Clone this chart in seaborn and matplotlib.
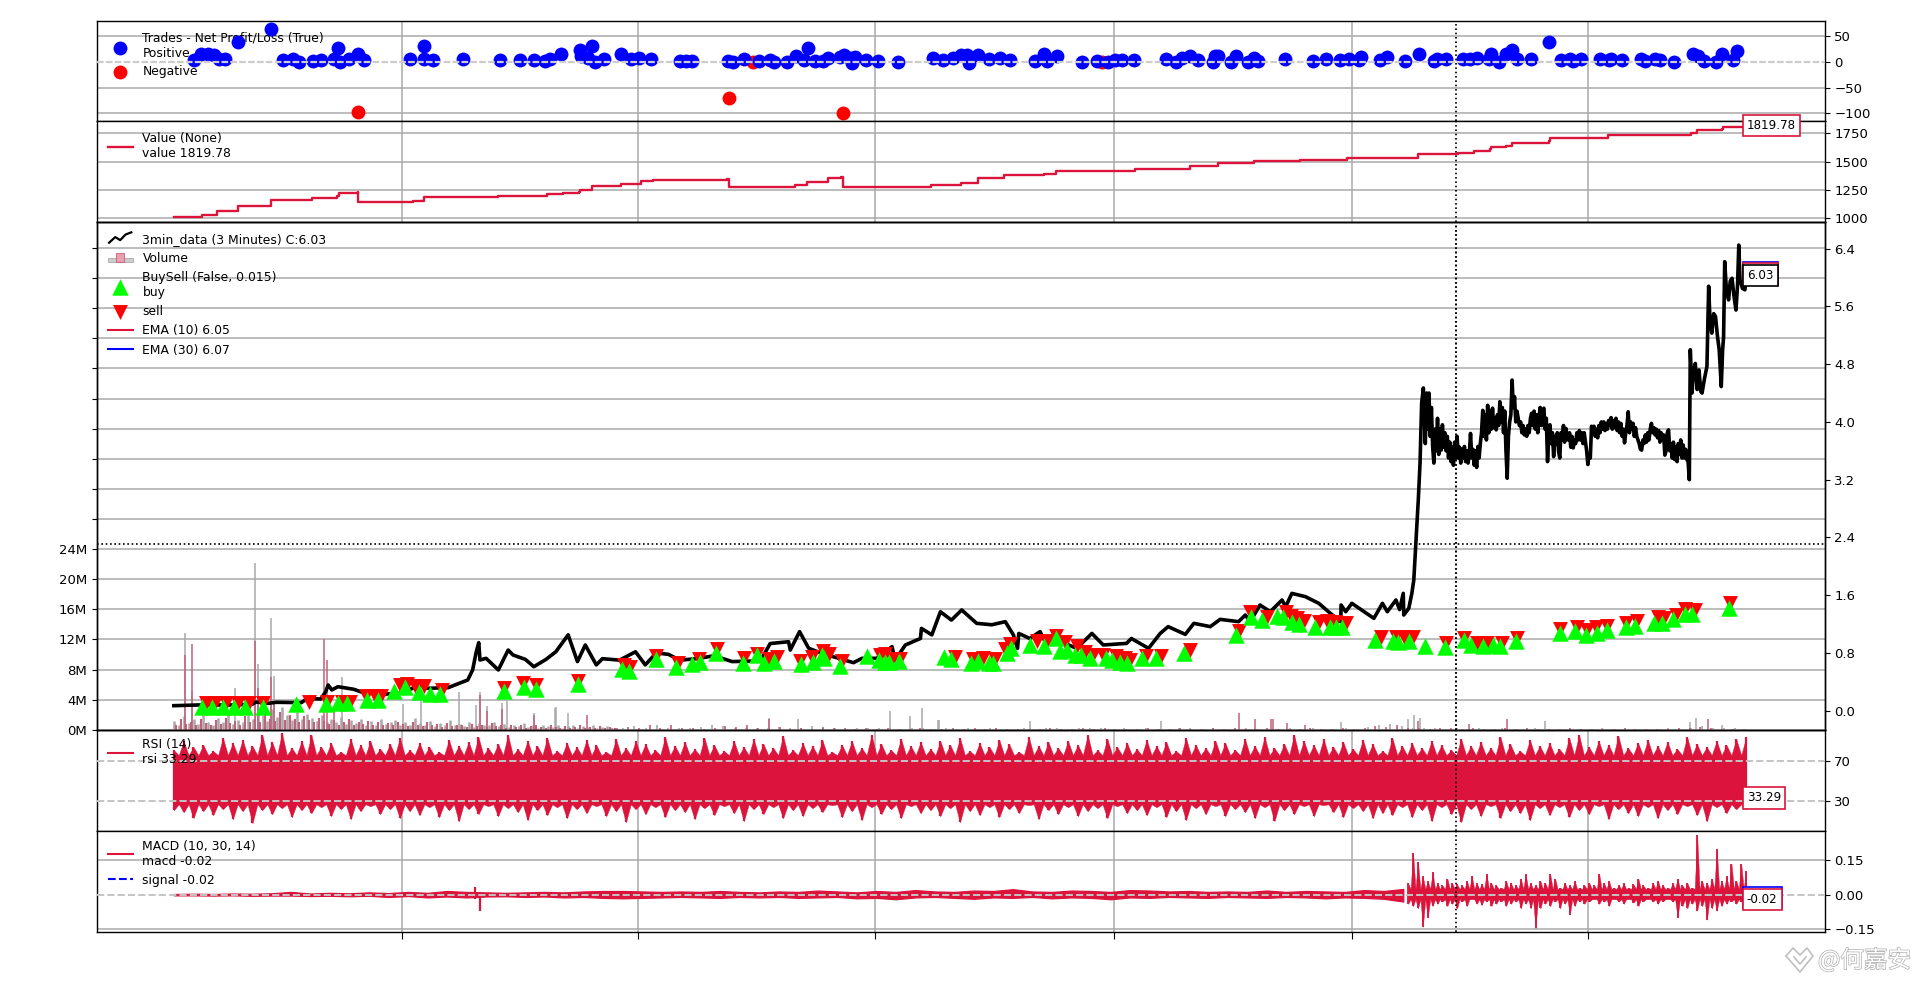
import numpy as np
import matplotlib
matplotlib.use('Agg')
import matplotlib.pyplot as plt
import matplotlib.patheffects as pe
from matplotlib.lines import Line2D
from matplotlib.patches import Rectangle
import seaborn as sns

# x is the bar position on a common axis
x_ticks = [328, 521, 715, 910, 1104, 1297]

# trades panel
pos_x = [158.5, 164.5, 170, 175, 179, 183.5, 194.5, 221, 231, 239, 244.5, 256, 262, 273, 278, 285, 292.5, 297, 276, 335,
         346, 346, 354, 378.5, 408, 425, 436, 445, 449, 458.5, 474, 474.5, 483.5, 480, 486, 493, 507, 515, 522, 532,
         555, 560, 565, 594.3, 599, 608, 620, 629, 632.4, 642.7, 650, 656.6, 659.5, 666, 671.8, 676.6, 686.3, 689.6,
         694.4, 696, 698.3, 707.3, 717, 733, 762, 770, 778, 785, 789.6, 791, 798.7, 808, 817, 825, 845.5, 852.6, 855,
         863.3, 884, 895.6, 905, 910.7, 916, 926, 952, 960.8, 965.6, 972, 978, 990.8, 992.4, 995, 1005.3, 1009, 1019,
         1024, 1027.6, 1049.6, 1072, 1082.7, 1094.6, 1102, 1110, 1111.7, 1127, 1133, 1147.6, 1158.6, 1171.5, 1173.7,
         1181, 1195, 1200.5, 1206, 1217.7, 1216, 1224, 1229.6, 1235, 1239, 1250.6, 1265.4, 1274.8, 1282, 1285, 1291,
         1306.5, 1314, 1316, 1325, 1340, 1343.6, 1351.7, 1356, 1367, 1383, 1387, 1392, 1401.7, 1406.5, 1415, 1418.5]
pos_y = [3.7, 15, 14, 12, 4.4, 4.4, 38, 64, 3.7, 4.4, -0.7, 1.2, 3.7, 5.7, -0.7, 4.4, 14, 2.5, 27, 5.7,
         31, 5.7, 2.5, 5.7, 2.5, 2.5, 2.5, 1.2, 4.4, 14, 21.8, 10.2, 30, 7, -0.7, 5.7, 15, 5.7, 7.7, 4.4,
         1.2, 1.2, 1.2, 1.2, -0.7, 5.7, 1.2, 2.5, -1.4, -1.4, 11, 2.5, 27, 1.2, 1.2, 7.7, 8.9, 13.6,
         7, -2.7, 8.9, 2.5, 1.2, -0.7, 7.7, 3.8, 7, 12, 12, -2.7, 13.6, 5.7, 7.7, 3.8, 1.2, 15, 1.2,
         10.2, -0.7, 1.2, -0.7, 3.8, 2.5, 3.8, 5.7, -0.7, 7.7, 10.2, 3.8, -0.7, 10.2, 10.2, -0.7, 10.2, -0.7,
         7.7, 1.2, 5.7, 1.2, 5.7, 2.5, 4.4, 2.5, 9, 2.5, 9, 1.2, 14, 1.2, 5.7,
         4.4, 5.7, 5.7, 7, 15, 4.4, -0.7, 14, 21.8, 4.4, 4.4, 38, 2.5, 5.7, 1.2, 5.7,
         4.4, 2.5, 4.4, 2.5, 5.7, 1.2, 4.4, 2.5, -0.7, 15, 10.2, 1.2, -0.7, 15, 2.5, 19.8]
neg_x = [292.5, 595, 688.5, 614.6, 900]
neg_y = [-98, -69.5, -100, -0.7, -0.7]

# broker value
value_x = [142, 158.5, 165, 177, 194, 220, 221, 255, 275, 277, 292, 292.5, 337, 346, 407, 447, 460, 473, 474, 483.5,
           507, 523.5, 533, 594, 595, 649, 659, 676.6, 687, 688.6, 760.6, 785, 799, 820, 852.6, 862, 927, 972, 995,
           1024, 1062, 1100, 1158, 1191, 1204, 1217, 1218, 1230, 1235, 1265, 1266, 1313, 1381, 1386, 1406, 1407, 1415, 1426]
value_y = [1009, 1009, 1029, 1058, 1102, 1102, 1161, 1180, 1190, 1220, 1232, 1138, 1150, 1182, 1195, 1210, 1225, 1228,
           1250, 1285, 1305, 1329, 1340, 1345, 1270, 1294, 1323, 1353, 1367, 1270, 1294, 1314, 1358, 1382, 1388, 1420,
           1435, 1461, 1485, 1505, 1515, 1535, 1567, 1579, 1594, 1609, 1632, 1640, 1662, 1680, 1711, 1732, 1755, 1779,
           1785, 1803, 1808, 1819.78]

# price, three stretches: slow part, the ranging middle, the last run
price_x = [142, 162, 189, 206, 209, 219, 226, 246, 251, 262, 266, 268, 271, 276, 289, 296, 312, 326, 332, 344, 349, 366,
           382, 386, 389, 391, 392, 397, 407, 415, 419, 429, 436, 446, 454, 464, 471.6, 478, 487, 492, 506, 519, 527, 536,
           546, 555, 569, 583, 598, 621, 629, 644, 645.4, 653, 660.4, 671, 685, 697, 704, 716, 728.5, 731, 739.4, 751.7,
           752.5, 761, 768, 777, 785.4, 797.6, 810, 821, 827.6, 831, 832, 841, 849.4, 853.5, 861.7, 879.4, 891.7, 901,
           920, 924, 938, 947.5, 954, 968, 975, 988.4, 996.5, 1011.5, 1017, 1021, 1029, 1037.4, 1047, 1050, 1055, 1066,
           1077, 1086.5, 1095, 1095.2, 1099, 1104, 1122, 1129, 1133, 1140, 1143, 1146, 1146.4, 1150.5, 1153, 1154.6,
           1158.3, 1159.7, 1161, 1162.4]
price_y = [.069, .079, .079, .088, .12, .102, .116, .111, .166, .162, .263, .356, .287, .332, .296, .254, .227, .24, .277,
           .356, .31, .319, .425, .564, .817, .942, .702, .725, .564, .84, .771, .711, .609, .711, .817, 1.05, .68, .91,
           .634, .72, .70, .816, .634, .80, .78, .70, .72, .76, .68, .69, .93, .955, .84, 1.095, .865, .795, .725, .665,
           .725, .725, .887, .70, .91, 1.0, 1.14, 1.05, 1.37, 1.255, 1.395, 1.21, 1.19, 1.233, 1.05, .863, 1.07, 1.0,
           1.095, .956, .988, .863, 1.07, .91, .932, 1.0, .863, 1.07, 1.164, 1.057, 1.21, 1.164, 1.265, 1.233, 1.325,
           1.233, 1.464, 1.371, 1.533, 1.44, 1.625, 1.58, 1.487, 1.348, 1.233, 1.464, 1.371, 1.487, 1.279, 1.487, 1.371,
           1.533, 1.40, 1.625, 1.325, 1.417, 1.625, 1.81, 2.93, 3.43, 4.26, 4.47]
price_mid = [3.7, 4.4, 3.9, 4.4, 3.8, 4.2, 3.66,
             3.43, 3.9, 3.6, 4.05, 3.55, 3.9, 3.61, 3.96, 3.65, 3.85,
             3.6, 3.8, 3.5, 3.72, 3.45, 3.65, 3.40, 3.72, 3.5, 3.8,
             3.5, 3.65, 3.43, 3.62, 3.5, 3.66, 3.45, 3.6, 3.43, 3.55,
             3.84, 3.5, 3.62, 3.4, 3.6, 3.37, 3.66, 3.5, 3.7, 3.85,
             4.16, 3.8, 4.1, 3.75, 4.23, 3.85, 4.15, 3.9, 4.19, 3.92,
             4.05, 3.89, 4.1, 3.95, 4.28, 4.0, 4.2, 3.85, 4.15, 3.6,
             3.22, 3.8, 4.0, 4.1, 4.58, 4.2, 4.35, 4.0, 4.15, 4.05,
             3.95, 4.0, 3.85, 3.95, 3.82, 3.9, 3.8, 3.95, 3.85, 4.05,
             4.12, 3.95, 4.15, 3.9, 4.1, 3.85, 4.05, 4.2, 3.95, 4.15,
             4.19, 3.9, 4.05, 3.45, 3.8, 3.96, 3.7, 3.85, 3.52, 3.8,
             3.7, 3.85, 3.6, 3.5, 3.85, 3.75, 3.95, 3.72, 3.91, 3.8,
             3.75, 3.85, 3.65, 3.8, 3.64, 3.75, 3.7, 3.85, 3.75, 3.88,
             3.75, 3.85, 3.7, 3.85, 3.72, 3.6, 3.41, 3.55, 3.5, 3.94,
             3.85, 3.94, 3.8, 3.9, 3.78, 3.95, 3.85, 4.0, 3.9, 4.0,
             3.88, 3.98, 3.9, 4.02, 3.95, 4.06, 3.9, 4.02, 3.92, 4.05,
             3.88, 4.0, 3.85, 3.98, 3.8, 3.9, 3.71, 3.85, 3.95, 4.14,
             3.85, 4.0, 3.9, 3.98, 3.8, 3.92, 3.8, 3.75, 3.7, 3.62,
             3.61, 3.75, 3.7, 3.82, 3.72, 3.85, 3.75, 3.9, 3.98, 3.85,
             3.92, 3.82, 3.9, 3.78, 3.88, 3.72, 3.85, 3.75, 3.82, 3.54,
             3.6, 3.85, 3.89, 3.6, 3.7, 3.5, 3.72, 3.48, 3.65, 3.45,
             3.7, 3.55, 3.75, 3.5, 3.68, 3.5, 3.62, 3.48, 3.45, 3.2]
price_end_x = [1380.4, 1381.8, 1383, 1384.5, 1386, 1387.5, 1389, 1390, 1392, 1394, 1395.4, 1396.5, 1398, 1399.5, 1401, 1402.5,
               1404, 1405.7, 1406.8, 1407.6, 1408.5, 1410, 1411.7, 1413, 1414.5, 1416, 1417.7, 1419, 1420, 1421, 1423, 1425, 1426]
price_end_y = [5.0, 4.4, 4.7, 4.81, 4.45, 4.72, 4.42, 4.4, 4.6, 4.77, 5.88, 5.4, 5.23, 5.5, 5.46, 5.2,
               5.0, 4.49, 5.0, 5.18, 6.22, 5.8, 5.69, 5.95, 5.99, 5.75, 5.55, 5.9, 6.45, 5.97, 5.85, 5.83, 6.03]

# buy / sell markers
buy_x = [165, 173, 182, 191, 200, 215, 242, 266, 276, 283, 300, 309, 322, 331, 342, 351, 359, 412, 428, 438, 472, 508,
         514, 536, 552, 565, 572, 585, 607, 618, 624, 632, 654, 664, 671, 673, 686, 708, 718, 723, 726, 734, 771, 777,
         793, 799, 808, 811, 822, 826, 841, 853, 862, 866, 871, 878, 883, 890, 903, 908, 915, 920, 933, 944, 967, 1009,
         1022, 1031, 1043, 1048, 1055, 1061, 1074, 1086, 1091, 1096, 1123, 1138, 1142, 1151, 1164, 1180, 1196, 1201,
         1211, 1219, 1225, 1238, 1274, 1286, 1295, 1304, 1312, 1328, 1335, 1351, 1357, 1366, 1376, 1382, 1412]
buy_y = [.047, .047, .056, .056, .056, .056, .088, .088, .10, .10, .149, .149, .278, .325, .264, .231, .231, .273, .324,
         .306, .366, .572, .544, .711, .601, .647, .68, .804, .663, .772, .663, .69, .647, .68, .772, .725, .619, .757,
         .702, .68, .68, .69, .748, .711, .665, .688, .665, .665, .803, .863, .909, .895, 1.0, .832, .841, .772, .772,
         .725, .725, .702, .679, .656, .725, .725, .803, 1.048, 1.302, 1.256, 1.312, 1.293, 1.233, 1.196, 1.164, 1.164,
         1.164, 1.164, .98, .97, .956, .97, .896, .887, .98, .91, .896, .91, .90, .966, 1.07, 1.108, 1.048, 1.08, 1.117,
         1.154, 1.173, 1.22, 1.22, 1.265, 1.339, 1.339, 1.418]
sell_x = [168, 176, 185, 194, 203, 215, 252, 267, 279, 286, 299, 306, 311, 327, 332, 339, 346, 361, 412, 427, 438, 472,
          510, 514.6, 536, 554, 570.5, 585.5, 608, 618, 628, 634.5, 653.6, 663, 672, 677, 687.6, 719, 723, 728.5, 735.3,
          780, 795, 803, 812.6, 821, 825, 847, 855, 862.5, 870, 879.4, 886, 893, 901, 911, 919, 923, 936, 948, 972, 1012,
          1021, 1035, 1050, 1054, 1059, 1065, 1077, 1084, 1090.6, 1099, 1128, 1140, 1146.4, 1154, 1180.5, 1196, 1206,
          1214.4, 1226.4, 1239, 1274.4, 1288, 1296, 1303, 1312, 1328, 1337, 1354, 1359, 1369, 1376, 1384, 1413]
sell_y = [.105, .105, .105, .105, .105, .105, .115, .115, .125, .125, .205, .205, .205, .36, .37, .346, .337, .29, .32,
          .38, .36, .415, .63, .609, .762, .655, .715, .854, .725, .785, .715, .738, .692, .738, .82, .785, .692, .775,
          .785, .715, .715, .75, .715, .725, .715, .853, .922, .968, .968, 1.038, .946, .89, .807, .774, .774, .76, .725,
          .701, .762, .762, .84, 1.107, 1.36, 1.302, 1.36, 1.315, 1.283, 1.246, 1.223, 1.246, 1.223, 1.209, 1.015, 1.015,
          1.015, 1.015, .937, 1.01, .94, .94, .94, 1.0, 1.13, 1.163, 1.12, 1.163, 1.177, 1.21, 1.246, 1.30, 1.28, 1.329,
          1.408, 1.40, 1.494]

# volume in millions, tall bars, a left carpet and a thin one over the whole run
vol_gray_x = [151, 157, 192, 208, 211, 221, 224, 279, 329, 344, 375, 389, 392, 398, 410, 414, 436, 453, 454, 464, 628, 652,
              727, 743, 753, 767, 766, 841, 948, 1095, 1155, 1150, 1160, 1262, 1385, 1380, 1406]
vol_gray_h = [12.9, 5.2, 5.6, 22.2, 8.7, 14.8, 7.2, 7.0, 3.4, 3.9, 5.0, 3.3, 5.0, 3.2, 3.6, 3.8, 2.2, 2.9, 3.0, 2.2, 1.6, 1.5,
              2.5, 1.8, 2.9, 1.3, 1.3, 1.2, 1.2, 1.0, 1.9, 1.5, 1.6, 1.2, 1.6, 1.0, 0.7]
vol_red_x = [151, 157, 208, 211, 221, 224, 265, 267, 273, 392, 398, 410, 436, 479, 628, 1012, 1025, 1038, 1040, 1051, 1066,
             1158, 1200, 1231, 1395]
vol_red_h = [9.9, 11.4, 11.8, 5.5, 7.0, 3.5, 12.1, 9.3, 3.0, 4.6, 2.5, 2.8, 2.0, 1.9, 1.4, 2.2, 1.4, 1.5, 1.5, 0.9, 0.7,
             1.2, 0.8, 1.4, 1.4]
vol_left_gray = [1.2, .7, 1.8, .9, 1.4, .8, 2.0, 1.1, .7, 1.6, 1.0, 2.2, .8, 1.3, 1.1, 1.9, 1.4, 2.6, 2.0, 1.2,
                 2.8, 1.7, 3.0, 1.9, 1.3, 2.4, 1.5, 2.1, 1.6, 1.2, 1.9, 1.0, 1.5, 1.1, 1.7, .8, 1.3, .9, 1.4, .7,
                 1.2, .6, 1.5, .8, 1.0, 1.3, .6, 1.1, .7, 1.6, .9, .6, 1.2, .5, .9, .7, 1.3, .6, .8, .5,
                 1.0, .4, .9, .6, .7, 1.1, .5, .8, .4, .7, .5, .9, .4, .6, .3, .7, .5, .4, .6, .3,
                 .5, .7, .3, .5, .4, .6, .3, .4, .5, .3]
vol_left_red = [.7, 1.4, .8, 1.1, .6, 1.5, .9, .7, 1.3, .8, 1.6, .9, 1.2, .7, 1.8, 1.0, 1.4, 1.1, 2.2, 1.5,
                1.2, 2.4, 1.3, 2.0, 1.5, 1.1, 1.8, 1.3, 1.0, 1.6, 1.2, .8, 1.3, .7, 1.1, 1.4, .7, 1.0, .8, 1.2,
                .6, 1.1, .7, .9, .6, 1.0, .8, .5, 1.1, .7, .5, 1.0, .6, .8, .4, .9, .5, .7, .6, .4,
                .8, .5, .6, .4, .9, .5, .6, .3, .7, .4, .6, .3, .5, .7, .4, .3, .6, .4, .3, .5,
                .3, .4, .6, .3, .4, .3, .5, .3, .4, .3]
vol_run_a = [.3, .2, .5, .3, .6, .2, .3, .2, .4, .6, .5, .3, .2, .3, .2, .4, .3, .2, .5, .3, .2, .1, .3, .2, .2, .3, .1, .2,
             .2, .1, .2, .1, .2, .1, .3, .1, .1, .2, .1, .2, .3, .1, .2, .3, .2, .1, .2, .1, .2, .1, .1, .2, .3, .1, .2, .1,
             .1, .2, .1, .1, .1, .2, .1, .2, .1, .1, .2, .1, .4, .6, .8, .5, .3, .2, .3, .1, .2, .1, .2, .1, .2, .1, .1, .2,
             .1, .1, .1, .1, .1, .2, .1, .1, .1, .1, .1, .2, .1, .3, .5, .3, .2, .2, .1]
vol_run_b = [.2, .4, .2, .6, .2, .7, .3, .3, .1, .3, .5, .4, .7, .2, .1, .4, .1, .2, .1, .4, .2, .2, .1, .2, .1, .3, .1, .1,
             .2, .1, .1, .2, .1, .2, .1, .2, .1, .1, .1, .1, .2, .1, .1, .2, .1, .2, .1, .1, .1, .2, .1, .1, .2, .1, .1, .2,
             .1, .2, .1, .1, .2, .1, .1, .1, .2, .1, .1, .2, .1, .3, .5, .4, .6, .3, .2, .1, .2, .2, .1, .2, .1, .1, .2, .1,
             .2, .1, .1, .1, .2, .1, .1, .1, .1, .2, .1, .1, .1, .1, .2, .2, .4, .2, .1, .1, .1]

# rsi: solid band plus the spikes above and below it
rsi_core = [27, 76]
rsi_hi = [81, 90, 84, 86, 80, 93, 88, 91, 85, 96,
          89, 98, 83, 90, 96, 84, 88, 79, 92, 86,
          90, 82, 87, 93, 81, 88, 84, 79, 91, 85,
          89, 94, 83, 87, 96, 82, 90, 85, 93, 80,
          88, 84, 91, 86, 79, 92, 83, 90, 87, 81,
          94, 85, 89, 82, 93, 86, 80, 90, 84, 92,
          87, 83, 95, 81, 88, 85, 91, 79, 86, 90,
          83, 96, 87, 81, 92, 85, 89, 82, 90, 86,
          93, 80, 88, 84, 91, 87, 79, 94, 85, 89,
          83, 90, 86, 96, 81, 92, 84, 88, 82, 91,
          85, 89, 80, 93, 86, 83, 90, 88, 81, 92,
          85, 94, 83, 87, 96, 90, 86, 92, 84, 89,
          82, 91, 87, 80, 93, 85, 88, 83, 90, 86,
          81, 92, 85, 89, 83, 94, 87, 80, 91, 85,
          88, 82, 93, 96, 84, 90, 86, 95, 83, 88,
          91, 85, 89, 82, 94, 87, 84, 90, 86, 92,
          94]
rsi_lo = [21, 19, 13, 20, 16, 22, 12, 20, 8, 21,
          17, 23, 14, 21, 18, 24, 15, 22, 12, 20,
          25, 17, 22, 13, 20, 16, 24, 14, 21, 10,
          22, 17, 25, 15, 23, 19, 11, 21, 16, 24,
          13, 22, 18, 25, 15, 20, 9, 22, 17, 24,
          14, 21, 19, 12, 23, 16, 25, 18, 10, 22,
          17, 24, 13, 21, 15, 23, 19, 26, 14, 20,
          11, 24, 17, 22, 13, 25, 18, 21, 15, 23,
          9, 20, 16, 24, 14, 22, 18, 26, 12, 21,
          17, 24, 15, 20, 23, 13, 25, 18, 21, 16,
          24, 14, 20, 11, 23, 17, 25, 15, 22, 19,
          13, 24, 10, 21, 17, 25, 15, 26, 19, 14,
          23, 20, 13, 18, 16, 24, 14, 21, 10, 24,
          17, 9, 22, 15, 25, 13, 20, 18, 11, 23,
          16, 24, 14, 21, 17, 25, 12, 22, 18, 15,
          24, 13, 21, 17, 25, 16, 10, 24, 18, 22,
          22]

# macd band, coarse before the jump and fine after it
macd_a_hi = [.003, .004, .003, .005, .004, .006, .012, .005, .008, .006, .010, .007, .012, .008, .016, .012,
             .010, .008, .010, .012, .010, .014, .016, .016, .014, .012, .014, .012, .016, .012, .010, .014,
             .012, .018, .014, .010, .016, .012, .020, .014, .012, .018, .016, .024, .014, .012, .018, .016,
             .012, .020, .018, .014, .016, .012, .014, .012, .018, .012, .016, .014, .012, .020, .016, .025]
macd_a_lo = [-.003, -.003, -.004, -.003, -.005, -.004, -.004, -.006, -.005, -.007, -.005, -.010, -.006, -.012, -.008, -.012,
             -.008, -.007, -.010, -.008, -.012, -.010, -.014, -.016, -.014, -.012, -.010, -.012, -.014, -.010, -.012, -.010,
             -.014, -.012, -.010, -.016, -.014, -.020, -.012, -.010, -.014, -.018, -.012, -.014, -.010, -.016, -.012, -.014,
             -.020, -.012, -.014, -.010, -.012, -.014, -.010, -.012, -.014, -.010, -.012, -.016, -.012, -.014, -.018, -.030]
macd_spike_x = [388, 392]
macd_spike_hi = [.033, .012]
macd_spike_lo = [-.02, -.07]
macd_core = [-.02, .025]
macd_b_hi = [.05, .182, .143, .08, .06, .097, .05, .04, .07, .05, .045, .04, .06, .08, .05, .045, .09, .05, .04, .03,
             .06, .05, .04, .07, .088, .05, .04, .06, .05, .09, .07, .03, .05, .04, .06, .03, .04, .05, .04, .09,
             .05, .06, .03, .04, .05, .03, .045, .07, .04, .03, .05, .06, .04, .03, .05, .07, .04, .05, .03, .26,
             .06, .05, .07, .20, .06, .08, .135, .06, .135, .104]
macd_b_lo = [-.04, -.05, -.06, -.14, -.10, -.05, -.04, -.03, -.05, -.04, -.06, -.03, -.05, -.02, -.04, -.045, -.03, -.05, -.04, -.03,
             -.05, -.04, -.03, -.06, -.04, -.06, -.146, -.06, -.04, -.05, -.03, -.06, -.04, -.087, -.05, -.03, -.04, -.03, -.02, -.04,
             -.03, -.05, -.02, -.03, -.04, -.02, -.035, -.05, -.03, -.02, -.03, -.04, -.03, -.02, -.03, -.10,
             -.05, -.06, -.04, -.07, -.05, -.109, -.06, -.07, -.05, -.04, -.03, -.04, -.03, -.04]

tick_pt = 9.5
legend_pt = 8.9
tag_pt = 8.6
crimson = '#dc143c'
grid_col = '#aaaaaa'

plt.rcParams['font.family'] = ['DejaVu Sans']
plt.rcParams['axes.linewidth'] = 1.0

W, H = 1920, 981
fig = plt.figure(figsize=(W / 100, H / 100), dpi=100)


def panel(top, bottom):
    left, right = 96.7, 1824.5
    return fig.add_axes([left / W, 1 - bottom / H, (right - left) / W, (bottom - top) / H])


def saw(ax, xs, lo, hi, core):
    # each reading is a peak, the band edge sits between two peaks
    xs = np.asarray(xs, dtype=float)
    mids = (xs[:-1] + xs[1:]) / 2
    n = min(len(lo), len(hi), len(xs))
    px = np.empty(2 * n - 1)
    px[0::2] = xs[:n]
    px[1::2] = mids[:n - 1]
    top = np.full(2 * n - 1, core[1], dtype=float)
    bot = np.full(2 * n - 1, core[0], dtype=float)
    top[0::2] = hi[:n]
    bot[0::2] = lo[:n]
    ax.fill_between(px, bot, top, color=crimson, lw=0.3, zorder=3)


ax_tr = panel(20.8, 121.2)
ax_val = panel(121.2, 221.6)
ax_p = panel(221.6, 729.8)
ax_rsi = panel(729.8, 831.4)
ax_macd = panel(831.4, 931.8)
axes = [ax_tr, ax_val, ax_p, ax_rsi, ax_macd]
ax_vol = ax_p.twinx()

for ax in axes + [ax_vol]:
    ax.set_xlim(79, 1490)
    ax.set_xticks(x_ticks)
    ax.tick_params(axis='x', labelbottom=False, length=0)
    ax.tick_params(axis='y', labelsize=tick_pt)
    ax.yaxis.tick_right()
    ax.grid(True, color=grid_col, lw=1.1)
    ax.set_axisbelow(True)
    ax.axvline(1189, color='k', ls=(0, (1, 1.6)), lw=1.2, zorder=20)
ax_macd.tick_params(axis='x', length=5)

# trades
sns.scatterplot(x=pos_x, y=pos_y, ax=ax_tr, color='blue', s=100, linewidth=0, zorder=4,
                label='Trades - Net Profit/Loss (True)\nPositive')
sns.scatterplot(x=neg_x, y=neg_y, ax=ax_tr, color='red', s=100, linewidth=0, zorder=3, label='Negative')
ax_tr.set_ylim(-115, 79)
ax_tr.set_yticks([50, 0, -50, -100])
ax_tr.yaxis.get_major_ticks()[1].gridline.set_visible(False)
ax_tr.axhline(0, color='#cccccc', ls=(0, (3, 1)), lw=1.6, zorder=6)
ax_tr.legend(loc='upper left', frameon=False, fontsize=legend_pt, labelspacing=0.45).set_zorder(2)

# value
sns.lineplot(x=value_x, y=value_y, ax=ax_val, color=crimson, lw=1.7, estimator=None, sort=False,
             drawstyle='steps-post', label='Value (None)\nvalue 1819.78')
ax_val.set_ylim(967, 1858.5)
ax_val.set_yticks([1000, 1250, 1500, 1750])
ax_val.legend(loc='upper left', frameon=False, fontsize=legend_pt)

# volume goes behind the price
ax_p.set_zorder(ax_vol.get_zorder() + 1)
ax_p.patch.set_visible(False)
ax_p.grid(False)
ax_vol.yaxis.tick_left()
ax_vol.yaxis.set_label_position('left')
ax_vol.set_ylim(0, 67.5)
ax_vol.set_yticks(np.arange(0, 65, 4))
ax_vol.set_yticklabels(['%dM' % v if v <= 24 else '' for v in np.arange(0, 65, 4)])

gray_col = '#a8a8a8'
red_col = '#c4607a'
ax_vol.vlines(np.linspace(142, 500, len(vol_left_gray)), 0, vol_left_gray, color=gray_col, lw=1.8)
ax_vol.vlines(np.linspace(500, 1426, len(vol_run_a)), 0, vol_run_a, color=gray_col, lw=1.2)
ax_vol.vlines(vol_gray_x, 0, vol_gray_h, color=gray_col, lw=1.1)
ax_vol.vlines(np.linspace(144, 502, len(vol_left_red)), 0, vol_left_red, color=red_col, lw=1.5)
ax_vol.vlines(np.linspace(504, 1424, len(vol_run_b)), 0, vol_run_b, color=red_col, lw=1.2)
ax_vol.vlines(vol_red_x, 0, vol_red_h, color=red_col, lw=1.1)

# price, emas under it
all_x = np.concatenate([price_x, np.linspace(1164, 1379.6, len(price_mid)), price_end_x])
all_y = price_y + price_mid + price_end_y
sns.lineplot(x=all_x, y=all_y, ax=ax_p, color=crimson, lw=1.5, estimator=None, sort=False, zorder=3,
             label='EMA (10) 6.05')
sns.lineplot(x=all_x, y=all_y, ax=ax_p, color='blue', lw=1.5, estimator=None, sort=False, zorder=3,
             label='EMA (30) 6.07')
sns.lineplot(x=all_x, y=all_y, ax=ax_p, color='k', lw=2.6, estimator=None, sort=False, zorder=4,
             label='3min_data (3 Minutes) C:6.03')
sns.scatterplot(x=sell_x, y=sell_y, ax=ax_p, color='red', marker='v', s=115, linewidth=0, zorder=5, label='sell')
sns.scatterplot(x=buy_x, y=buy_y, ax=ax_p, color='lime', marker='^', s=140, linewidth=0, zorder=6,
                label='BuySell (False, 0.015)\nbuy')
ax_p.set_ylim(-0.265, 6.775)
ax_p.set_yticks([0, .8, 1.6, 2.4, 3.2, 4.0, 4.8, 5.6, 6.4])
ax_p.axhline(2.313, color='k', ls=(0, (1, 1.6)), lw=1.2, zorder=20)


class VolumeHandle:
    def legend_artist(self, legend, orig, fontsize, box):
        x0, y0 = box.xdescent, box.ydescent
        w, h = box.width, box.height
        rects = [Rectangle((x0, y0), w, h * 0.5, fc='#cccccc', ec='#aaaaaa', lw=0.6, transform=box.get_transform()),
                 Rectangle((x0 + w * 0.33, y0), w * 0.33, h, fc='#eaa0b0', ec='#c4607a', lw=0.6,
                           transform=box.get_transform())]
        for r in rects:
            box.add_artist(r)
        return rects[0]


class PriceHandle:
    def legend_artist(self, legend, orig, fontsize, box):
        w, h = box.width, box.height
        xs = [w * f for f in (0.05, 0.3, 0.5, 0.72, 0.95)]
        ys = [h * f for f in (0.0, 0.65, 0.3, 0.95, 1.2)]
        line = Line2D(xs, ys, color='k', lw=1.6, transform=box.get_transform())
        box.add_artist(line)
        return line


h, l = ax_p.get_legend_handles_labels()
by = dict(zip(l, h))
vol_handle = Rectangle((0, 0), 1, 1)
by['Volume'] = vol_handle
order = ['3min_data (3 Minutes) C:6.03', 'Volume', 'BuySell (False, 0.015)\nbuy', 'sell', 'EMA (10) 6.05', 'EMA (30) 6.07']
ax_p.legend([by[k] for k in order], order, loc='upper left', frameon=False, fontsize=legend_pt, labelspacing=0.5,
            handler_map={vol_handle: VolumeHandle(), by[order[0]]: PriceHandle()})

# rsi
rsi_x = np.linspace(142, 1426, len(rsi_hi))
saw(ax_rsi, rsi_x, rsi_lo, rsi_hi, rsi_core)
ax_rsi.vlines(rsi_x, rsi_lo, rsi_hi, color=crimson, lw=1.6, zorder=3)
ax_rsi.plot([], [], color=crimson, lw=1.5, label='RSI (14)\nrsi 33.29')
ax_rsi.set_ylim(-0.1, 101.3)
ax_rsi.set_yticks([70, 30])
ax_rsi.grid(False, axis='y')
for level in [70, 30]:
    ax_rsi.axhline(level, color='#c4c4c4', ls='--', lw=1.4, zorder=6)
ax_rsi.legend(loc='upper left', frameon=False, fontsize=legend_pt, bbox_to_anchor=(0, 1.03)).set_zorder(10)

# macd
macd_ax = np.linspace(142, 1146, len(macd_a_hi))
macd_bx = np.linspace(1150, 1426, len(macd_b_hi))
ax_macd.fill_between(macd_ax, macd_a_lo, macd_a_hi, color=crimson, lw=0.9, zorder=3)
saw(ax_macd, macd_bx, macd_b_lo, macd_b_hi, macd_core)
ax_macd.vlines(macd_bx, macd_b_lo[:len(macd_bx)], macd_b_hi, color=crimson, lw=1.3, zorder=3)
ax_macd.vlines(macd_spike_x, macd_spike_lo, macd_spike_hi, color=crimson, lw=1.6, zorder=3)
ax_macd.plot([], [], color=crimson, lw=1.5, label='MACD (10, 30, 14)\nmacd -0.02')
ax_macd.plot([], [], color='blue', lw=1.5, ls='--', label='signal -0.02')
ax_macd.set_ylim(-.162, .276)
ax_macd.set_yticks([.15, 0, -.15])
ax_macd.set_yticklabels(['0.15', '0.00', '\u22120.15'])
ax_macd.yaxis.get_major_ticks()[1].gridline.set_visible(False)
ax_macd.axhline(0, color='#c4c4c4', ls='--', lw=1.4, zorder=6)
ax_macd.legend(loc='upper left', frameon=False, fontsize=legend_pt, bbox_to_anchor=(0, 1.03))


def tag(ax, y, text, color):
    ax.plot([1425.6], [y], marker='<', ms=4.5, mfc='white', mec=color, mew=1.0, clip_on=False, zorder=29)
    ax.text(1426.6, y, text, fontsize=tag_pt, va='center', ha='left', zorder=30, clip_on=False,
            bbox=dict(boxstyle='square,pad=0.35', fc='white', ec=color, lw=1.2))


tag(ax_val, 1819.78, '1819.78', crimson)
tag(ax_p, 6.07, '6.03', 'blue')
tag(ax_p, 6.05, '6.03', crimson)
tag(ax_p, 6.03, '6.03', 'k')
tag(ax_rsi, 33.29, '33.29', crimson)
tag(ax_macd, -0.012, '-0.02', 'blue')
tag(ax_macd, -0.02, '-0.02', crimson)

# watermark bottom right
mark = fig.text(1818 / W, 1 - 960 / H, '@何嘉安', family=['Noto Sans CJK SC', 'DejaVu Sans'], fontsize=17,
                color='white', va='center', ha='left')
mark.set_path_effects([pe.withStroke(linewidth=1.0, foreground='#b0b0b0')])
for pts in ([(1786, 956), (1793, 948), (1800, 955), (1807, 948), (1813, 956), (1800, 972), (1786, 956)],
            [(1794, 957), (1800, 964), (1806, 957)]):
    fig.add_artist(Line2D([p[0] / W for p in pts], [1 - p[1] / H for p in pts], color='#c0c0c0', lw=1.2))

fig.savefig('out.png', dpi=100)
